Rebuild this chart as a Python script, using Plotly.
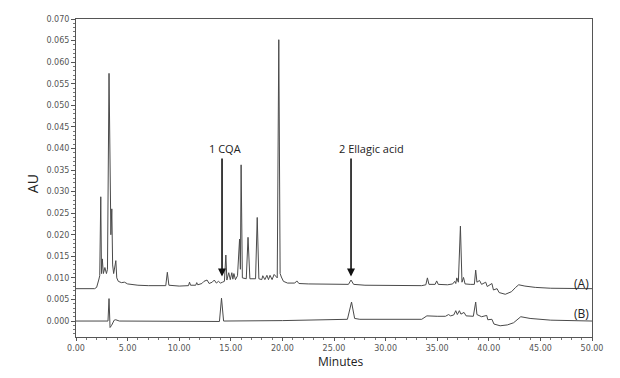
import plotly.graph_objects as go

# Trace (A): sample chromatogram, time (min) vs absorbance (AU)
time_a = [0.0, 1.8, 2.0, 2.1, 2.2, 2.3, 2.4, 2.47, 2.55, 2.65, 2.8, 2.95, 3.05, 3.2, 3.3, 3.38,
          3.47, 3.55, 3.65, 3.86, 3.95, 4.1, 4.4, 4.7, 5.0, 5.5, 6.0, 7.0, 8.0, 8.7, 8.85, 9.0,
          10.0, 10.9, 11.0, 11.1, 11.6, 11.7, 11.8, 12.2, 12.4, 12.7, 12.9, 13.2, 13.4, 13.6,
          13.8, 14.0, 14.2, 14.38, 14.52, 14.62, 14.8, 14.95, 15.1, 15.2, 15.3, 15.45, 15.65, 15.85,
          15.93, 16.0, 16.12, 16.5, 16.67, 16.85, 17.4, 17.56, 17.72, 18.0, 18.1, 18.3, 18.5, 18.65,
          18.8, 19.0, 19.2, 19.5, 19.65, 19.78, 19.9, 20.1, 20.5, 21.2, 21.4, 21.6, 22.5, 23.5,
          24.5, 25.5, 26.4, 26.65, 26.9, 28.0, 30.0, 32.0, 33.5, 33.9, 34.05, 34.2, 34.8, 34.95,
          35.1, 36.0, 36.5, 36.7, 36.8, 36.9, 37.05, 37.25, 37.4, 37.55, 37.7, 38.2, 38.6, 38.73,
          38.85, 39.1, 39.3, 39.7, 39.85, 40.3, 40.45, 40.8, 41.0, 41.6, 42.2, 42.6, 42.9, 43.5,
          44.5, 46.0, 48.0, 50.0]
au_a = [0.0075, 0.0075, 0.0078, 0.0085, 0.0095, 0.0105, 0.0288, 0.0110, 0.0144, 0.0110, 0.0124,
        0.0110, 0.0120, 0.0574, 0.0353, 0.0200, 0.0260, 0.0130, 0.0110, 0.0140, 0.0100, 0.0092,
        0.0089, 0.0090, 0.0086, 0.0084, 0.0083, 0.0082, 0.0082, 0.0082, 0.0113, 0.0083, 0.0081,
        0.0082, 0.0090, 0.0083, 0.0083, 0.0089, 0.0084, 0.0087, 0.0092, 0.0095, 0.0087, 0.0090,
        0.0095, 0.0088, 0.0092, 0.0088, 0.0090, 0.0092, 0.0153, 0.0095, 0.0112, 0.0096, 0.0112,
        0.0097, 0.0110, 0.0096, 0.0105, 0.0190, 0.0120, 0.0362, 0.0100, 0.0098, 0.0194, 0.0098,
        0.0098, 0.0240, 0.0098, 0.0096, 0.0105, 0.0096, 0.0106, 0.0096, 0.0106, 0.0096, 0.0108,
        0.0100, 0.0652, 0.0110, 0.0102, 0.0092, 0.0088, 0.0088, 0.0093, 0.0087, 0.0086, 0.0086,
        0.0085, 0.0085, 0.0085, 0.0095, 0.0085, 0.0083, 0.0083, 0.0082, 0.0082, 0.0084, 0.0100,
        0.0085, 0.0085, 0.0093, 0.0085, 0.0084, 0.0086, 0.0092, 0.0087, 0.0100, 0.0090, 0.0220,
        0.0090, 0.0101, 0.0086, 0.0085, 0.0085, 0.0118, 0.0090, 0.0094, 0.0085, 0.0090, 0.0080,
        0.0087, 0.0072, 0.0075, 0.0066, 0.0062, 0.0068, 0.0078, 0.0084, 0.0081, 0.0078, 0.0076,
        0.0075, 0.0075]

# Trace (B): standard mixture chromatogram
time_b = [0.0, 3.1, 3.2, 3.3, 3.45, 3.7, 3.85, 4.2, 13.9, 14.1, 14.3, 20.0, 26.3, 26.7, 27.0,
          27.5, 33.5, 34.0, 35.0, 35.8, 36.1, 36.3, 36.6, 36.8, 36.95, 37.15, 37.3, 37.6, 37.8,
          38.5, 38.73, 38.85, 39.3, 39.8, 39.9, 40.3, 40.5, 41.1, 41.8, 42.4, 43.1, 44.0, 46.0,
          50.0]
au_b = [0.0, 0.0, 0.0052, -0.0015, -0.0010, 0.0002, 0.0003, 0.0, -0.0001, 0.0053, 0.0, 0.0001,
        0.0004, 0.0044, 0.0006, 0.0004, 0.0004, 0.0012, 0.0011, 0.0011, 0.0015, 0.0012, 0.0014,
        0.0024, 0.0015, 0.0024, 0.0016, 0.0020, 0.0012, 0.0011, 0.0044, 0.0015, 0.0010, 0.0013,
        0.0003, 0.0004, -0.0007, -0.0011, -0.0009, -0.0004, 0.0010, 0.0006, 0.0002, 0.0]

# Peak identifications
peak_labels = ["1 CQA", "2 Ellagic acid"]
peak_rt = [14.15, 26.65]
peak_text_x = [14.45, 28.6]

# Trace labels
trace_labels = ["(A)", "(B)"]
trace_label_y = [0.0086, 0.0018]

line_col = "#4a4a4a"
fig = go.Figure()
fig.add_trace(go.Scatter(x=time_a, y=au_a, mode="lines",
                         line=dict(color=line_col, width=1), showlegend=False))
fig.add_trace(go.Scatter(x=time_b, y=au_b, mode="lines",
                         line=dict(color=line_col, width=1), showlegend=False))

ann = []
for lab, rt, tx in zip(peak_labels, peak_rt, peak_text_x):
    ann.append(dict(x=rt, y=0.0103, ax=rt, ay=0.0380, xref="x", yref="y", axref="x", ayref="y",
                    text="", showarrow=True, arrowhead=2, arrowsize=1, arrowwidth=1.6,
                    arrowcolor="#111"))
    ann.append(dict(x=tx, y=0.0399, xref="x", yref="y", text=lab, showarrow=False,
                    xanchor="center", yanchor="middle",
                    font=dict(family="Open Sans", size=11, color="#222")))
for lab, ly in zip(trace_labels, trace_label_y):
    ann.append(dict(x=49.0, y=ly, xref="x", yref="y", text=lab, showarrow=False,
                    xanchor="center", yanchor="middle",
                    font=dict(family="Open Sans", size=12, color="#222")))
ann.append(dict(x=-0.085, y=0.481, xref="paper", yref="paper", text="AU", textangle=-90,
                xanchor="center", yanchor="middle",
                showarrow=False, font=dict(family="Open Sans", size=14, color="#222")))
ann.append(dict(x=0.5136, y=-0.076, xref="paper", yref="paper", text="Minutes",
                xanchor="center", yanchor="middle",
                showarrow=False, font=dict(family="Open Sans", size=12, color="#222")))

fig.update_layout(
    width=604, height=362,
    margin=dict(l=68, r=20, t=7, b=33),
    paper_bgcolor="white", plot_bgcolor="white",
    annotations=ann,
)
fig.update_xaxes(range=[0, 50], dtick=5, tickformat=".2f", showgrid=False, zeroline=False,
                 showline=True, linecolor="#555", linewidth=1, mirror=True,
                 ticks="outside", ticklen=3, tickcolor="#555",
                 tickfont=dict(family="DejaVu Sans", size=8, color="#555"),
                 minor=dict(dtick=1, ticks="outside", ticklen=2, tickcolor="#777"))
fig.update_yaxes(range=[-0.0037, 0.070], dtick=0.005, tick0=0, tickformat=".3f", showgrid=False,
                 zeroline=False, showline=True, linecolor="#555", linewidth=1, mirror=True,
                 ticks="outside", ticklen=4, tickcolor="#555",
                 tickfont=dict(family="DejaVu Sans", size=8, color="#555"),
                 minor=dict(dtick=0.001, ticks="outside", ticklen=2, tickcolor="#777"))

fig.write_html("out.html")
